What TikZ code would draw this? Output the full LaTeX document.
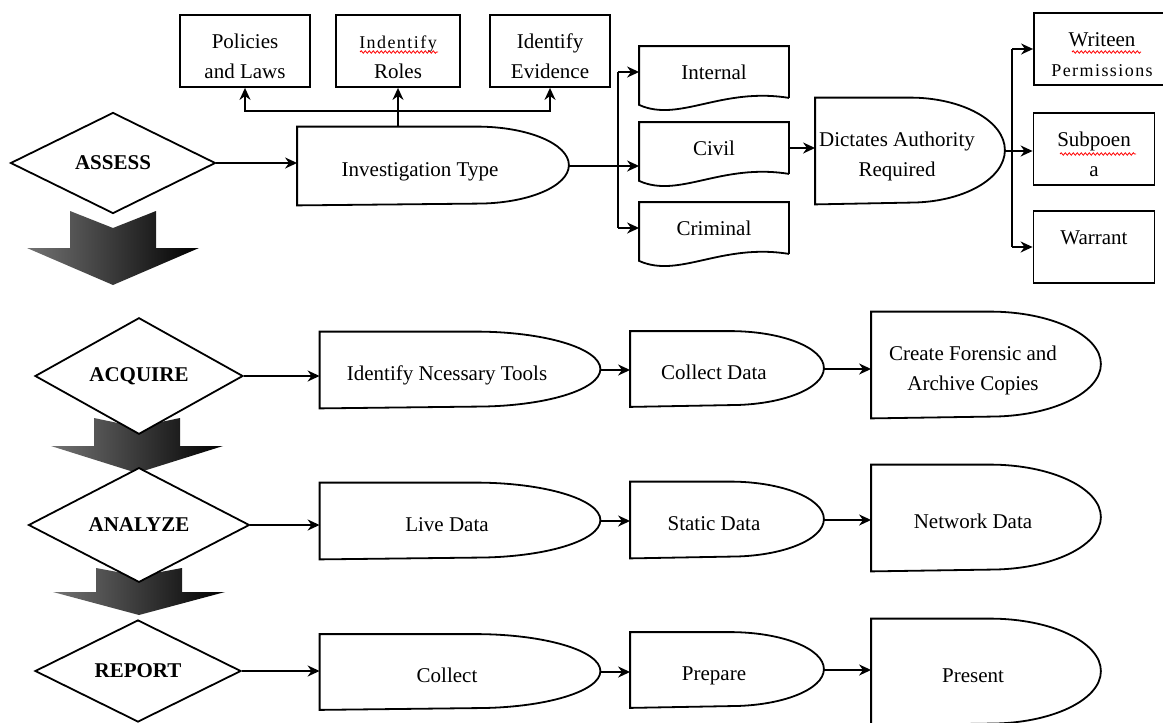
\documentclass[tikz,border=0pt]{standalone}
\usepackage{fontspec}
\setmainfont{Liberation Serif}
\usetikzlibrary{arrows.meta,shapes.geometric,decorations.pathmorphing}

\newcommand{\spacedword}[1]{{\addfontfeatures{LetterSpace=8}\fontsize{18}{30}\selectfont #1}}
\newcommand{\delaytext}[1]{\raisebox{-4pt}[\height][\depth]{\begin{tabular}{@{}c@{\hspace{26pt}}}#1\end{tabular}}}
\newcommand{\boxtext}[1]{\raisebox{-6pt}[\height][\depth]{\begin{tabular}{@{}c@{}}#1\end{tabular}}}

\begin{document}
\begin{tikzpicture}[x=1pt, y=-1pt, line width=1.8pt,
  every node/.style={font=\fontsize{21}{30}\selectfont, inner sep=0pt},
  arr/.style={-{Stealth[length=12pt, width=11pt]}},
  phase/.style={diamond, draw, fill=white, font=\fontsize{21}{30}\selectfont\bfseries},
  box/.style={rectangle, draw},
  doc/.style={rectangle, minimum width=148pt, minimum height=50pt,
    append after command={\pgfextra{\draw (\tikzlastnode.south east) -- (\tikzlastnode.north east)
      -- (\tikzlastnode.north west) -- ([yshift=-7pt]\tikzlastnode.south west)
      .. controls +(40,18) and +(-68,-11) .. (\tikzlastnode.south east);}}},
  delay/.style 2 args={rectangle, minimum height=2*#2,
    append after command={\pgfextra{\draw ([xshift=-#1]\tikzlastnode.north east)
      arc[start angle=90, end angle=-90, x radius=#1, y radius=#2]
      -- (\tikzlastnode.south west) -- (\tikzlastnode.north west) -- cycle;}}},
  spell/.style={draw=red, line width=0.8pt, decorate,
    decoration={snake, amplitude=1.2pt, segment length=4pt}}]

  \useasboundingbox (0,0) rectangle (1163,723);

  % Shaded arrows between the phases
  \foreach \cx/\tp/\nt/\wg/\tip in {113/211/228/248/285, 137/418/427/446/473, 139/568/576/592/615}
    \shade[left color=black!55, right color=black] (\cx-43,\tp) -- (\cx,\nt) -- (\cx+43,\tp)
      -- (\cx+43,\wg) -- (\cx+86,\wg) -- (\cx,\tip) -- (\cx-86,\wg) -- (\cx-43,\wg) -- cycle;

  % Phases
  \node[phase, minimum width=205pt, minimum height=101pt] (assess) at (113,163) {ASSESS};
  \node[phase, minimum width=208pt, minimum height=102pt] (acquire) at (139,376) {ACQUIRE};
  \node[phase, minimum width=221pt, minimum height=104pt] (analyze) at (139,525) {ANALYZE};
  \node[phase, minimum width=206pt, minimum height=102pt] (report) at (138,671) {REPORT};

  % Assess row
  \node[delay={92pt}{38.5pt}, minimum width=270pt] (inv) at (433,166) {\delaytext{Investigation Type}};
  \node[box, minimum width=130pt, minimum height=72pt] (policies) at (245,51) {\boxtext{Policies\\and Laws}};
  \node[box, minimum width=124pt, minimum height=72pt] (roles) at (398,51) {\boxtext{\spacedword{Indentify}\\Roles}};
  \node[box, minimum width=120pt, minimum height=72pt] (evidence) at (550,51) {\boxtext{Identify\\Evidence}};
  \node[doc] (internal) at (714,72) {Internal};
  \node[doc] (civil) at (714,148) {\raisebox{-4pt}{Civil}};
  \node[doc] (criminal) at (714,228) {\raisebox{-4pt}{Criminal}};
  \node[delay={95pt}{52.5pt}, minimum width=188pt] (auth) at (910,151) {\delaytext{Dictates Authority\\Required}};
  \node[box, minimum width=136pt, minimum height=72pt] (writ) at (1102,49) {\boxtext{Writeen\\\spacedword{Permissions}}};
  \node[box, minimum width=121pt, minimum height=72pt] (subp) at (1094,149) {\boxtext{Subpoen\\a}};
  \node[box, minimum width=121pt, minimum height=72pt, text height=15pt, text depth=21pt] (warr) at (1094,247) {Warrant};

  \draw[spell] ([xshift=-38pt, yshift=-1pt]roles.center) -- ++(78,0);
  \draw[spell] ([xshift=-30pt, yshift=-3pt]writ.center) -- ++(69,0);
  \draw[spell] ([xshift=-34pt, yshift=-5pt]subp.center) -- ++(76,0);

  \draw[arr] (assess.east) -- (assess.east -| inv.west);
  \coordinate (split) at (398,111);
  \draw[arr] (inv.north -| roles.south) -- (roles.south);
  \draw[arr] (split) -| (policies.south);
  \draw[arr] (split) -| (evidence.south);
  \coordinate (fork) at (618,166);
  \draw[arr] (inv.east) -- (inv.east -| civil.west);
  \draw (fork |- internal.west) -- (fork |- criminal.west);
  \draw[arr] (fork |- internal.west) -- (internal.west);
  \draw[arr] (fork |- criminal.west) -- (criminal.west);
  \draw[arr] (civil.east) -- (civil.east -| auth.west);
  \coordinate (fork2) at (1012,151);
  \draw (auth.east) -- (fork2);
  \draw (fork2 |- writ.west) -- (fork2 |- warr.west);
  \draw[arr] (fork2 |- writ.west) -- (writ.west);
  \draw[arr] (fork2) -- (fork2 -| subp.west);
  \draw[arr] (fork2 |- warr.west) -- (warr.west);

  % Acquire row
  \node[delay={125pt}{37.5pt}, minimum width=279pt] (tools) at (460,370) {\delaytext{Identify Ncessary Tools}};
  \node[delay={94pt}{37pt}, minimum width=192pt] (colldata) at (727,369) {\delaytext{Collect Data}};
  \node[delay={111pt}{52.5pt}, minimum width=228pt] (forensic) at (986,365) {\delaytext{Create Forensic and\\Archive Copies}};
  \draw[arr] (acquire.east) -- (acquire.east -| tools.west);
  \draw[arr] (tools.east) -- (tools.east -| colldata.west);
  \draw[arr] (colldata.east) -- (colldata.east -| forensic.west);

  % Analyze row
  \node[delay={125pt}{37.5pt}, minimum width=279pt] (live) at (460,521) {\delaytext{Live Data}};
  \node[delay={94pt}{37.5pt}, minimum width=192pt] (static) at (727,520) {\delaytext{Static Data}};
  \node[delay={111pt}{52.5pt}, minimum width=228pt] (network) at (986,518) {\delaytext{Network Data}};
  \draw[arr] (analyze.east) -- (analyze.east -| live.west);
  \draw[arr] (live.east) -- (live.east -| static.west);
  \draw[arr] (static.east) -- (static.east -| network.west);

  % Report row
  \node[delay={125pt}{37pt}, minimum width=279pt] (collect) at (460,672) {\delaytext{Collect}};
  \node[delay={94pt}{37pt}, minimum width=192pt] (prepare) at (727,670) {\delaytext{Prepare}};
  \node[delay={111pt}{52.5pt}, minimum width=228pt] (present) at (986,672) {\delaytext{Present}};
  \draw[arr] (report.east) -- (report.east -| collect.west);
  \draw[arr] (collect.east) -- (collect.east -| prepare.west);
  \draw[arr] (prepare.east) -- (prepare.east -| present.west);
\end{tikzpicture}
\end{document}
